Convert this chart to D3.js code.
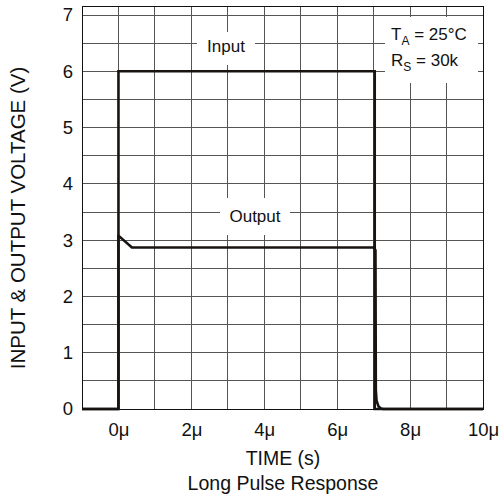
<!DOCTYPE html>
<html>
<head>
<meta charset="utf-8">
<script src="https://cdn.jsdelivr.net/npm/d3@7"></script>
<style>
  body { margin: 0; background: #fff; }
  text { font-family: "Liberation Sans", Arial, sans-serif; fill: #111; }
</style>
</head>
<body>
<div id="chart"></div>
<script>
// time in microseconds, voltage in volts
const inputTime = [-1, 0, 0, 7.03, 7.03, 10];
const inputVolt = [0, 0, 6, 6, 0, 0];
const outputTime = [-1, 0, 0, 0.37, 7.0, 7.05, 7.06, 7.08, 7.13, 7.2, 7.27, 10];
const outputVolt = [0, 0, 3.08, 2.87, 2.87, 2.82, 0.34, 0.15, 0.05, 0.01, 0, 0];
const xTicks = [0, 2, 4, 6, 8, 10];
const yTicks = [0, 1, 2, 3, 4, 5, 6, 7];

const DrawPulseChart = (element) => {
  const width = 500;
  const height = 498;
  const margin = { top: 6, right: 17, bottom: 89, left: 82 };
  const innerW = width - margin.left - margin.right;
  const innerH = height - margin.top - margin.bottom;

  d3.select(element).select("svg").remove();

  const svg = d3
    .select(element)
    .append("svg")
    .attr("width", width)
    .attr("height", height);

  const g = svg.append("g").attr("transform", `translate(${margin.left}, ${margin.top})`);

  const x = d3.scaleLinear().domain([-1, 10]).range([0, innerW]);
  const y = d3.scaleLinear().domain([0, 7.16]).range([innerH, 0]);

  // grid: every 1µs and every 0.5V
  g.append("g")
    .selectAll("line")
    .data(d3.range(0, 10, 1))
    .join("line")
    .attr("x1", (d) => x(d)).attr("x2", (d) => x(d))
    .attr("y1", 0).attr("y2", innerH)
    .attr("stroke", "#555").attr("stroke-width", 1).attr("shape-rendering", "crispEdges");

  g.append("g")
    .selectAll("line")
    .data(d3.range(0.5, 7.01, 0.5))
    .join("line")
    .attr("x1", 0).attr("x2", innerW)
    .attr("y1", (d) => y(d)).attr("y2", (d) => y(d))
    .attr("stroke", "#555").attr("stroke-width", 1).attr("shape-rendering", "crispEdges");

  // white boxes behind labels
  const boxes = [
    { x0: 197, y0: 32, x1: 255, y1: 65 },
    { x0: 220, y0: 198, x1: 290, y1: 235 },
    { x0: 385, y0: 17, x1: 478, y1: 83 },
  ];
  svg.append("g")
    .selectAll("rect")
    .data(boxes)
    .join("rect")
    .attr("x", (d) => d.x0).attr("y", (d) => d.y0)
    .attr("width", (d) => d.x1 - d.x0).attr("height", (d) => d.y1 - d.y0)
    .attr("fill", "#fff");

  // series
  const line = d3.line().x((d) => x(d[0])).y((d) => y(d[1]));
  const inputPts = inputTime.map((t, i) => [t, inputVolt[i]]);
  const outputPts = outputTime.map((t, i) => [t, outputVolt[i]]);

  g.append("path")
    .attr("d", line(inputPts))
    .attr("fill", "none").attr("stroke", "#1a1410").attr("stroke-width", 2.6)
    .attr("stroke-linejoin", "miter");
  g.append("path")
    .attr("d", line(outputPts))
    .attr("fill", "none").attr("stroke", "#1a1410").attr("stroke-width", 2.6)
    .attr("stroke-linejoin", "round");

  // frame
  g.append("rect")
    .attr("width", innerW).attr("height", innerH)
    .attr("fill", "none").attr("stroke", "#111").attr("stroke-width", 1)
    .attr("shape-rendering", "crispEdges");

  // axes
  const xAxis = g.append("g")
    .attr("transform", `translate(0, ${innerH})`)
    .call(d3.axisBottom(x).tickValues(xTicks).tickSize(0).tickPadding(14).tickFormat((d) => `${d}μ`));
  const yAxis = g.append("g")
    .call(d3.axisLeft(y).tickValues(yTicks).tickSize(0).tickPadding(9));
  [xAxis, yAxis].forEach((a) => {
    a.select(".domain").remove();
    a.selectAll("text").attr("font-size", "18.5px").attr("font-family", "Liberation Sans, Arial, sans-serif").attr("fill", "#111");
  });

  // labels in plot
  svg.append("text").attr("x", 226).attr("y", 52).attr("text-anchor", "middle")
    .attr("font-size", "17px").text("Input");
  svg.append("text").attr("x", 255).attr("y", 222).attr("text-anchor", "middle")
    .attr("font-size", "17px").text("Output");

  const ta = svg.append("text").attr("x", 391).attr("y", 40).attr("font-size", "17px");
  ta.append("tspan").text("T");
  ta.append("tspan").attr("font-size", "12px").attr("dy", 5).text("A");
  ta.append("tspan").attr("dy", -5).text(" = 25°C");

  const rs = svg.append("text").attr("x", 391).attr("y", 66).attr("font-size", "17px");
  rs.append("tspan").text("R");
  rs.append("tspan").attr("font-size", "12px").attr("dy", 5).text("S");
  rs.append("tspan").attr("dy", -5).text(" = 30k");

  // axis titles
  svg.append("text").attr("x", 283).attr("y", 465).attr("text-anchor", "middle")
    .attr("font-size", "19.5px").text("TIME (s)");
  svg.append("text").attr("x", 283).attr("y", 490).attr("text-anchor", "middle")
    .attr("font-size", "19.5px").text("Long Pulse Response");
  svg.append("text")
    .attr("transform", "translate(25, 218) rotate(-90)")
    .attr("text-anchor", "middle")
    .attr("font-size", "20.5px").text("INPUT & OUTPUT VOLTAGE (V)");
};

DrawPulseChart(document.getElementById("chart"));
</script>
</body>
</html>
